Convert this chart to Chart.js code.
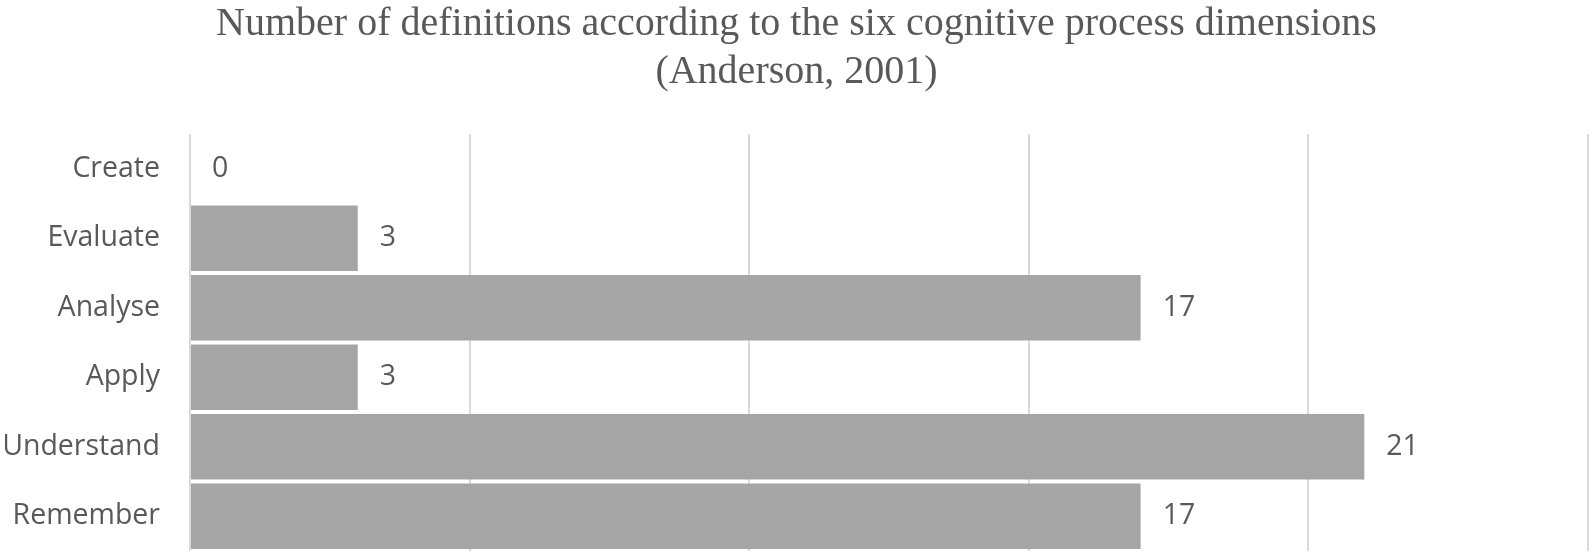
<!DOCTYPE html>
<html>
<head>
<meta charset="utf-8">
<script src="https://cdn.jsdelivr.net/npm/chart.js@4/dist/chart.umd.min.js"></script>
<style>
  html, body { margin: 0; padding: 0; background: #fff; }
  #wrap { width: 1595px; height: 558px; }
</style>
</head>
<body>
<div id="wrap"><canvas id="chart" width="1595" height="558"></canvas></div>
<script>
// chart data
const categories = ['Create', 'Evaluate', 'Analyse', 'Apply', 'Understand', 'Remember'];
const counts = [0, 3, 17, 3, 21, 17];
const titleLines = ['Number of definitions according to the six cognitive process dimensions', '(Anderson, 2001)'];

const textColor = '#595959';
const labelFont = { family: 'Open Sans', size: 28.5 };

// draws the value next to each bar (no datalabels plugin available)
const valueLabels = {
  id: 'valueLabels',
  afterDatasetsDraw(chart) {
    const ctx = chart.ctx;
    const meta = chart.getDatasetMeta(0);
    ctx.save();
    ctx.font = `${labelFont.size}px "${labelFont.family}"`;
    ctx.fillStyle = textColor;
    ctx.textAlign = 'left';
    ctx.textBaseline = 'middle';
    meta.data.forEach((bar, i) => {
      ctx.fillText(String(counts[i]), bar.x + 22, bar.y);
    });
    ctx.restore();
  }
};

const ctx = document.getElementById('chart').getContext('2d');
new Chart(ctx, {
  type: 'bar',
  data: {
    labels: categories,
    datasets: [{
      data: counts,
      backgroundColor: '#a5a5a5',
      borderWidth: 0,
      categoryPercentage: 1,
      barPercentage: 0.94
    }]
  },
  options: {
    indexAxis: 'y',
    responsive: false,
    animation: false,
    layout: { padding: { left: 5, right: 7, top: 0, bottom: 7 } },
    plugins: {
      legend: { display: false },
      tooltip: { enabled: false },
      title: {
        display: true,
        text: titleLines,
        color: textColor,
        font: { family: 'Liberation Serif', size: 40, weight: 'normal', lineHeight: 1.2 },
        padding: { top: 0, bottom: 38 }
      }
    },
    scales: {
      x: {
        min: 0,
        max: 25,
        ticks: { display: false, stepSize: 5 },
        grid: { color: '#d9d9d9', lineWidth: 2, drawTicks: false },
        border: { display: false },
        afterFit(scale) { scale.height = 0; }
      },
      y: {
        grid: { display: false },
        border: { display: false },
        ticks: { color: textColor, font: labelFont, padding: 22 },
        afterFit(scale) {
          scale.width = 185;
          scale.paddingTop = 0;
          scale.paddingBottom = 0;
        }
      }
    }
  },
  plugins: [valueLabels]
});
</script>
</body>
</html>
